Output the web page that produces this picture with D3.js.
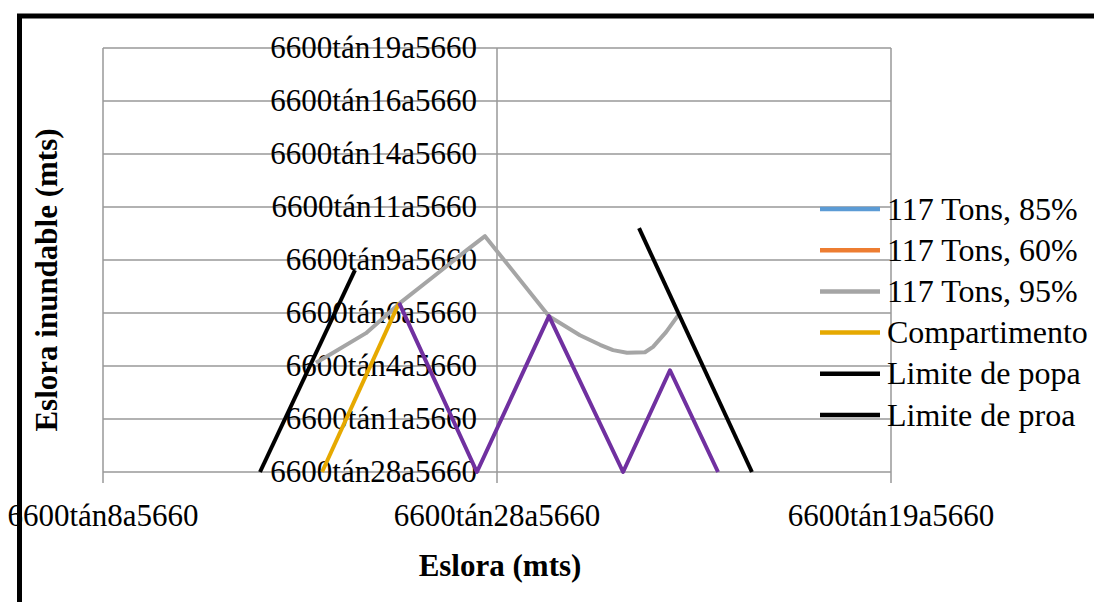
<!DOCTYPE html>
<html>
<head>
<meta charset="utf-8">
<script src="https://cdn.jsdelivr.net/npm/d3@7"></script>
<style>
  html, body { margin: 0; padding: 0; background: #fff; }
  svg { display: block; }
  text { font-family: "Liberation Serif", "Times New Roman", serif; fill: #000; }
</style>
</head>
<body>
<svg id="chart" width="1094" height="602"></svg>
<script>
// ---- Data ----
const xTickValues = [0, 20, 40];
const xTickLabels = ["6600tán8a5660", "6600tán28a5660", "6600tán19a5660"];
const yTickValues = [0, 1, 2, 3, 4, 5, 6, 7, 8];
const yTickLabels = ["6600tán28a5660", "6600tán1a5660", "6600tán4a5660", "6600tán6a5660",
                     "6600tán9a5660", "6600tán11a5660", "6600tán14a5660", "6600tán16a5660", "6600tán19a5660"];

// 117 Tons, 85% and 60%: no visible marks in the reference
const tons85X = [];
const tons85Y = [];
const tons60X = [];
const tons60Y = [];
// 117 Tons, 95%
const tons95X = [10.81, 11.68, 13.35, 15.08, 16.75, 18.48, 19.39, 22.64, 24.21, 25.23, 25.89, 26.60, 27.51, 27.92, 28.58, 29.24];
const tons95Y = [2.06, 2.25, 2.62, 3.19, 3.68, 4.19, 4.45, 2.94, 2.58, 2.40, 2.30, 2.25, 2.26, 2.36, 2.64, 2.98];
// Compartimento
const compX = [11.12, 15.03];
const compY = [0, 3.19];
// Limite de popa
const popaX = [7.97, 12.79];
const popaY = [0, 3.81];
// Limite de proa
const proaX = [27.21, 32.94];
const proaY = [4.60, 0];
// Extra compartment series (legend entry not visible)
const comp2X = [15.03, 18.98, 22.64, 26.40, 28.78, 31.22];
const comp2Y = [3.19, 0, 2.94, 0, 1.92, 0];

const seriesNames = ["117 Tons, 85%", "117 Tons, 60%", "117 Tons, 95%", "Compartimento", "Limite de popa", "Limite de proa"];
const seriesColors = ["#5b9bd5", "#ed7d31", "#a5a5a5", "#e6a900", "#000000", "#000000"];

const xTitle = "Eslora (mts)";
const yTitle = "Eslora inundable (mts)";

// ---- Build ----
(function () {
const zip = (xs, ys) => xs.map((v, i) => ({ x: v, y: ys[i] }));
const series = [
  { name: seriesNames[0], color: seriesColors[0], width: 4, pts: zip(tons85X, tons85Y) },
  { name: seriesNames[1], color: seriesColors[1], width: 4, pts: zip(tons60X, tons60Y) },
  { name: seriesNames[2], color: seriesColors[2], width: 4, pts: zip(tons95X, tons95Y) },
  { name: seriesNames[3], color: seriesColors[3], width: 4, pts: zip(compX, compY) },
  { name: seriesNames[4], color: seriesColors[4], width: 4, pts: zip(popaX, popaY) },
  { name: seriesNames[5], color: seriesColors[5], width: 4, pts: zip(proaX, proaY) },
  { name: "extra", color: "#7030a0", width: 4, pts: zip(comp2X, comp2Y) }
];

const svg = d3.select("#chart");
const pLeft = 103, pRight = 891, pTop = 48, pBottom = 472;
const x = d3.scaleLinear().domain([0, 40]).range([pLeft, pRight]);
const y = d3.scaleLinear().domain([0, 8]).range([pBottom, pTop]);

// outer border (only top and left visible)
svg.append("rect").attr("x", 19.5).attr("y", 16).attr("width", 1300).attr("height", 800)
  .attr("fill", "none").attr("stroke", "#000").attr("stroke-width", 5);

// horizontal gridlines
svg.append("g").selectAll("line").data(yTickValues).join("line")
  .attr("x1", pLeft).attr("x2", pRight)
  .attr("y1", d => y(d)).attr("y2", d => y(d))
  .attr("stroke", "#999999").attr("stroke-width", 1.5);

// vertical gridlines with ticks below
svg.append("g").selectAll("line").data(xTickValues).join("line")
  .attr("x1", d => x(d)).attr("x2", d => x(d))
  .attr("y1", pTop).attr("y2", pBottom + 11)
  .attr("stroke", "#999999").attr("stroke-width", 1.5);

// y tick labels (at the y axis crossing in the middle)
const yAxisX = x(20);
svg.append("g").selectAll("text").data(yTickValues).join("text")
  .attr("x", yAxisX - 20).attr("y", d => y(d) + 10)
  .attr("text-anchor", "end").attr("font-size", 31)
  .text((d, i) => yTickLabels[i]);

// x tick labels
svg.append("g").selectAll("text").data(xTickValues).join("text")
  .attr("x", d => x(d)).attr("y", 526)
  .attr("text-anchor", "middle").attr("font-size", 31)
  .text((d, i) => xTickLabels[i]);

// axis titles
svg.append("text").attr("x", 500).attr("y", 576).attr("text-anchor", "middle")
  .attr("font-size", 31).attr("font-weight", "bold").text(xTitle);
svg.append("text").attr("transform", "translate(57,280) rotate(-90)").attr("text-anchor", "middle")
  .attr("font-size", 31).attr("font-weight", "bold").text(yTitle);

// series lines
const line = d3.line().x(d => x(d.x)).y(d => y(d.y));
svg.append("g").selectAll("path").data(series.filter(s => s.pts.length)).join("path")
  .attr("d", s => line(s.pts))
  .attr("fill", "none").attr("stroke", s => s.color).attr("stroke-width", s => s.width)
  .attr("stroke-linejoin", "round");

// legend
const legendTop = 209, legendStep = 41.2;
const lg = svg.append("g").selectAll("g").data(series.slice(0, 6)).join("g")
  .attr("transform", (d, i) => `translate(0,${legendTop + i * legendStep})`);
lg.append("line").attr("x1", 820).attr("x2", 880).attr("y1", 0).attr("y2", 0)
  .attr("stroke", d => d.color).attr("stroke-width", 4.5);
lg.append("text").attr("x", 887).attr("y", 10.5).attr("font-size", 32).text(d => d.name);
})();
</script>
</body>
</html>
